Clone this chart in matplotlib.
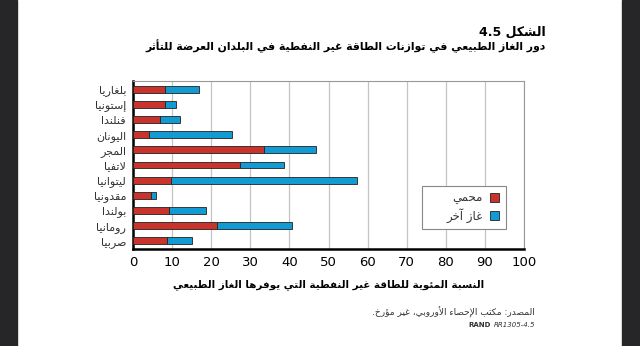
import matplotlib.pyplot as plt
from matplotlib.patches import Rectangle, Patch

# Arabic text is shaped by hand: matplotlib has no joining or RTL support
_FORMS = {
    'ء': (0xFE80, 1), 'آ': (0xFE81, 2), 'أ': (0xFE83, 2), 'ؤ': (0xFE85, 2),
    'إ': (0xFE87, 2), 'ئ': (0xFE89, 4), 'ا': (0xFE8D, 2), 'ب': (0xFE8F, 4),
    'ة': (0xFE93, 2), 'ت': (0xFE95, 4), 'ث': (0xFE99, 4), 'ج': (0xFE9D, 4),
    'ح': (0xFEA1, 4), 'خ': (0xFEA5, 4), 'د': (0xFEA9, 2), 'ذ': (0xFEAB, 2),
    'ر': (0xFEAD, 2), 'ز': (0xFEAF, 2), 'س': (0xFEB1, 4), 'ش': (0xFEB5, 4),
    'ص': (0xFEB9, 4), 'ض': (0xFEBD, 4), 'ط': (0xFEC1, 4), 'ظ': (0xFEC5, 4),
    'ع': (0xFEC9, 4), 'غ': (0xFECD, 4), 'ف': (0xFED1, 4), 'ق': (0xFED5, 4),
    'ك': (0xFED9, 4), 'ل': (0xFEDD, 4), 'م': (0xFEE1, 4), 'ن': (0xFEE5, 4),
    'ه': (0xFEE9, 4), 'و': (0xFEED, 2), 'ى': (0xFEEF, 2), 'ي': (0xFEF1, 4),
}
_LAM_ALEF = {'آ': 0xFEF5, 'أ': 0xFEF7, 'إ': 0xFEF9, 'ا': 0xFEFB}


def _shape_word(word):
    # merge lam + alef into ligature tokens
    toks = []
    i = 0
    while i < len(word):
        if word[i] == 'ل' and i + 1 < len(word) and word[i + 1] in _LAM_ALEF:
            toks.append(('LA', word[i + 1]))
            i += 2
        else:
            toks.append(word[i])
            i += 1

    def joins_forward(t):
        return isinstance(t, str) and t in _FORMS and _FORMS[t][1] == 4

    def is_letter(t):
        return isinstance(t, tuple) or t in _FORMS

    out = []
    for k, t in enumerate(toks):
        prev_j = k > 0 and joins_forward(toks[k - 1])
        if isinstance(t, tuple):
            out.append(chr(_LAM_ALEF[t[1]] + (1 if prev_j else 0)))
            continue
        if t not in _FORMS:
            out.append(t)
            continue
        base, n = _FORMS[t]
        next_j = n == 4 and k + 1 < len(toks) and is_letter(toks[k + 1])
        if n == 1:
            form = 0
        elif prev_j and next_j:
            form = 3
        elif next_j:
            form = 2
        elif prev_j:
            form = 1
        else:
            form = 0
        out.append(chr(base + form))
    return ''.join(out)


def ar(text):
    words = text.split(' ')
    vis = []
    for w in reversed(words):
        if any(c in _FORMS for c in w):
            vis.append(_shape_word(w)[::-1])
        else:
            vis.append(w)
    return ' '.join(vis)


countries = ['بلغاريا', 'إستونيا', 'فنلندا', 'اليونان', 'المجر', 'لاتفيا',
             'ليتوانيا', 'مقدونيا', 'بولندا', 'رومانيا', 'صربيا']
domestic = [8.1, 8.1, 6.9, 4.2, 33.6, 27.3, 9.8, 4.6, 9.1, 21.4, 8.6]
other_gas = [8.8, 2.8, 5.1, 21.2, 13.3, 11.2, 47.6, 1.2, 9.6, 19.3, 6.5]
xticks = [0, 10, 20, 30, 40, 50, 60, 70, 80, 90, 100]

red = '#c8342b'
blue = '#129bd3'

plt.rcParams['font.family'] = ['DejaVu Sans']

fig = plt.figure(figsize=(6.4, 3.46), dpi=100)
fig.patch.set_facecolor('white')

# dark side bands of the page
fig.patches.append(Rectangle((0, 0), 17 / 640, 1, transform=fig.transFigure,
                             color='#262628', zorder=0))
fig.patches.append(Rectangle((622 / 640, 0), 18 / 640, 1, transform=fig.transFigure,
                             color='#262628', zorder=0))

ax = fig.add_axes([133 / 640, 1 - 249 / 346, 391 / 640, 168 / 346])
ypos = list(range(len(countries)))
ax.barh(ypos, domestic, height=0.45, color=red, edgecolor='#222222', linewidth=0.6, zorder=3)
ax.barh(ypos, other_gas, left=domestic, height=0.45, color=blue, edgecolor='#222222',
        linewidth=0.6, zorder=3)

ax.set_xlim(0, 100)
ax.set_ylim(len(countries) - 0.45, -0.55)
ax.set_xticks(xticks)
ax.set_xticklabels([str(v) for v in xticks], fontsize=9.5)
ax.set_yticks(ypos)
ax.set_yticklabels([ar(c) for c in countries], fontsize=8, color='#333333')
ax.tick_params(length=0, pad=5)
ax.grid(axis='x', color='#c4c4c4', linewidth=0.9, zorder=0)
ax.set_axisbelow(True)
for side in ['top', 'right']:
    ax.spines[side].set_color('#999999')
    ax.spines[side].set_linewidth(0.8)
for side in ['left', 'bottom']:
    ax.spines[side].set_color('black')
    ax.spines[side].set_linewidth(1.8)

# legend box is wider than its contents, so draw the frame separately
ax.add_patch(Rectangle((0.738, 0.119), 0.215, 0.258, transform=ax.transAxes,
                       facecolor='white', edgecolor='#888888', linewidth=0.8, zorder=4))
handles = [Patch(facecolor=red, edgecolor='#222222', linewidth=0.6),
           Patch(facecolor=blue, edgecolor='#222222', linewidth=0.6)]
leg = ax.legend(handles, [ar('محمي'), ar('غاز آخر')], loc='center right',
                bbox_to_anchor=(0.936, 0.248), markerfirst=False, fontsize=8.5,
                frameon=False, handlelength=0.8, handleheight=0.8, borderpad=0,
                labelspacing=0.3, handletextpad=0.6, borderaxespad=0)
for t in leg.get_texts():
    t.set_color('#333333')

fig.text(546 / 640, 1 - 32 / 346, ar('الشكل 4.5'), ha='right', va='center',
         fontsize=9, fontweight='bold')
fig.text(546 / 640, 1 - 46 / 346,
         ar('دور الغاز الطبيعي في توازنات الطاقة غير النفطية في البلدان العرضة للتأثر'),
         ha='right', va='center', fontsize=7.8, fontweight='bold')
fig.text(329 / 640, 1 - 285 / 346,
         ar('النسبة المئوية للطاقة غير النفطية التي يوفرها الغاز الطبيعي'),
         ha='center', va='center', fontsize=7.5, fontweight='bold')
fig.text(535 / 640, 1 - 312 / 346, ar('المصدر: مكتب الإحصاء الأوروبي، غير مؤرخ.'),
         ha='right', va='center', fontsize=6.5, color='#333333')
code = fig.text(535 / 640, 1 - 325 / 346, 'RR1305-4.5', ha='right', va='center',
                fontsize=5, style='italic', color='#333333')
plt.annotate('RAND', xy=(0, 0.5), xycoords=code, xytext=(-2, 0),
             textcoords='offset points', ha='right', va='center',
             fontsize=5, fontweight='bold', color='#333333')

fig.savefig('out.png', dpi=100)
